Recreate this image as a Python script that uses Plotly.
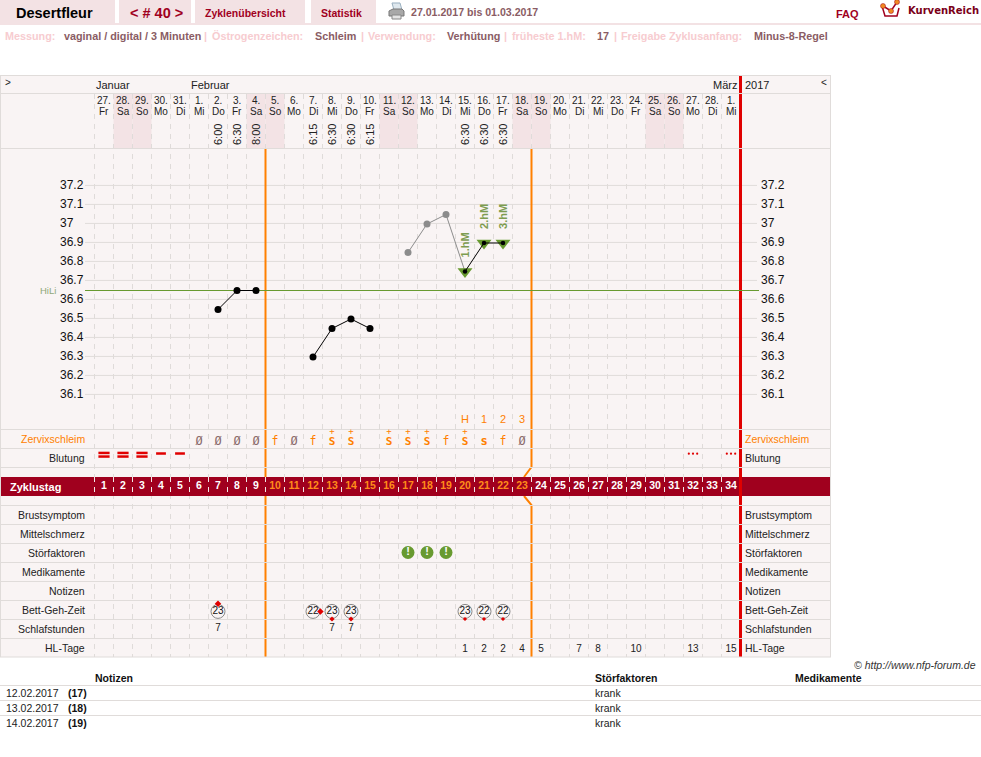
import plotly.graph_objects as go

W, H = 981, 757

# ---- cycle calendar ----
date_labels = ["27.", "28.", "29.", "30.", "31.", "1.", "2.", "3.", "4.", "5.", "6.", "7.", "8.", "9.", "10.", "11.", "12.",
               "13.", "14.", "15.", "16.", "17.", "18.", "19.", "20.", "21.", "22.", "23.", "24.", "25.", "26.", "27.", "28.", "1."]
weekday_labels = ["Fr", "Sa", "So", "Mo", "Di", "Mi", "Do", "Fr", "Sa", "So", "Mo", "Di", "Mi", "Do", "Fr", "Sa", "So",
                  "Mo", "Di", "Mi", "Do", "Fr", "Sa", "So", "Mo", "Di", "Mi", "Do", "Fr", "Sa", "So", "Mo", "Di", "Mi"]
cycle_days = list(range(1, 35))
weekend_days = [2, 3, 9, 10, 16, 17, 23, 24, 30, 31]
wake_days = [7, 8, 9, 12, 13, 14, 15, 20, 21, 22]
wake_times = ["6:00", "6:30", "8:00", "6:15", "6:30", "6:30", "6:15", "6:30", "6:30", "6:30"]
months = [("Januar", 96), ("Februar", 191), ("März", 713)]

# ---- temperature curve ----
temp_ticks = [37.2, 37.1, 37, 36.9, 36.8, 36.7, 36.6, 36.5, 36.4, 36.3, 36.2, 36.1]
hili_level = 36.65
temp_days_a = [7, 8, 9]
temp_vals_a = [36.55, 36.65, 36.65]
temp_days_b = [12, 13, 14, 15]
temp_vals_b = [36.30, 36.45, 36.50, 36.45]
temp_days_c = [17, 18, 19, 20]
temp_vals_c = [36.85, 37.00, 37.05, 36.75]
temp_days_d = [20, 21, 22]
temp_vals_d = [36.75, 36.90, 36.90]
hm_labels = ["1.hM", "2.hM", "3.hM"]

# ---- observation lanes ----
peak_days = [20, 21, 22, 23]
peak_labels = ["H", "1", "2", "3"]
mucus_dry_days = [6, 7, 8, 9, 11, 23]
mucus_f_days = [10, 12, 19, 22]
mucus_s_days = [21]
mucus_splus_days = [13, 14, 16, 17, 18, 20]
bleed_heavy_days = [1, 2, 3]
bleed_light_days = [4, 5]
spot_days = [32, 34]
disturb_days = [17, 18, 19]
bed_days = [7, 12, 13, 14, 20, 21, 22]
bed_hours = ["23", "22", "23", "23", "23", "22", "22"]
sleep_days = [7, 13, 14]
sleep_hours = ["7", "7", "7"]
hl_days = [20, 21, 22, 23, 24, 26, 27, 29, 32, 34]
hl_counts = ["1", "2", "2", "4", "5", "7", "8", "10", "13", "15"]
lane_labels = [("Zervixschleim", 0), ("Blutung", 1), ("Brustsymptom", 4), ("Mittelschmerz", 5), ("Störfaktoren", 6),
               ("Medikamente", 7), ("Notizen", 8), ("Bett-Geh-Zeit", 9), ("Schlafstunden", 10), ("HL-Tage", 11)]
fertile_first_day = 10
fertile_last_day = 23
note_rows = [("12.02.2017", "(17)", "krank"), ("13.02.2017", "(18)", "krank"), ("14.02.2017", "(19)", "krank")]

# ---- palette ----
PANEL = "#f9f4f4"
SHADE = "#f3e3e5"
RULE = "#e0dcda"
DASH = "#dfdbd9"
MAROON = "#a0001e"
ORANGE = "#ff8000"
RED = "#e00000"
GREEN = "#689a30"
MUTED = "#8a5c64"
PINK = "#f7ccd0"
TAB = "#f3e2e4"
SANS = "Liberation Sans"
MONO = "DejaVu Sans Mono"

# Scale of the day axis and of the two vertical axes on the page
DAY_PX = 19.0
DAY1_X = 104.0
TEMP_PX = 190.0
TEMP_TOP_Y = 186.0
LANE_PX = 19.0
LANE0_Y = 438.5


def fx(px):
    return px / W


def fy(px):
    return 1 - px / H


def day_at(px):
    return 1 + (px - DAY1_X) / DAY_PX


shapes = []


def rect(x0, y0, x1, y1, fill):
    shapes.append(dict(type="rect", xref="paper", yref="paper", x0=fx(x0), x1=fx(x1), y0=fy(y0), y1=fy(y1),
                       fillcolor=fill, line_width=0, layer="below"))


def seg(x0, y0, x1, y1, color, width=1, dash=None):
    shapes.append(dict(type="line", xref="paper", yref="paper", x0=fx(x0), x1=fx(x1), y0=fy(y0), y1=fy(y1),
                       line=dict(color=color, width=width, dash=dash), layer="below"))


def path(points, color, width=1, fill=None):
    d = "M" + " L".join(f"{fx(x):.5f},{fy(y):.5f}" for x, y in points)
    if fill:
        d += " Z"
    shapes.append(dict(type="path", xref="paper", yref="paper", path=d, layer="below",
                       line=dict(color=color, width=width), fillcolor=fill or "rgba(0,0,0,0)"))


annotations = []


def label(text, x, y, size=11, color="#222", family=SANS, anchor="left", bold=False, italic=False, angle=0,
          xref="paper", yref="paper"):
    if bold:
        text = f"<b>{text}</b>"
    if italic:
        text = f"<i>{text}</i>"
    annotations.append(dict(text=text, x=fx(x) if xref == "paper" else x, y=fy(y) if yref == "paper" else y,
                            xref=xref, yref=yref, xanchor=anchor, yanchor="middle", showarrow=False,
                            textangle=angle, font=dict(size=size, color=color, family=family),
                            borderpad=0, borderwidth=0))


# ---- page header ----
rect(0, 0, 115, 23, TAB)
rect(119, 0, 191, 23, TAB)
rect(195, 0, 305, 23, TAB)
rect(311, 0, 376, 23, TAB)
rect(0, 23, W, 25, TAB)
label("Desertfleur", 16, 13, size=14.5, color="#000", bold=True)
label("&lt; # 40 &gt;", 156, 13, size=14.5, color=MAROON, bold=True, anchor="center")
label("Zyklenübersicht", 205, 13, size=10.5, color=MAROON, bold=True)
label("Statistik", 321, 13, size=10.5, color=MAROON, bold=True)
label("27.01.2017 bis 01.03.2017", 411, 12.5, size=10.6, color=MUTED, bold=True)
label("FAQ", 836, 14.5, size=11, color=MAROON, bold=True)
label("KurvenReich", 908, 10.5, size=10, color="#7a0018", family="DejaVu Sans", bold=True)

# printer icon
path([(392, 3), (400, 3), (402, 10), (394, 10)], "#9ab0c0", 1, "#dfe8ee")
path([(389, 11), (393, 9), (402, 9), (404, 11), (404, 16), (389, 16)], "#777", 1, "#a8a8a8")
path([(392, 15), (401, 15), (401, 19), (392, 19)], "#888", 1, "#e4e4e4")

# crown logo
path([(882, 6), (885, 16), (897, 16), (899, 8)], MAROON, 1.5)
path([(883, 6), (891, 11), (897, 2)], MAROON, 1.5)
for cx, cy in [(883, 6), (891, 11), (897, 2)]:
    shapes.append(dict(type="circle", xref="paper", yref="paper", x0=fx(cx - 2.5), x1=fx(cx + 2.5),
                       y0=fy(cy + 2.5), y1=fy(cy - 2.5), fillcolor="#f08a20", line=dict(color=MAROON, width=0.5),
                       layer="below"))

# settings line under the header
settings = [("Messung:", 5, PINK), ("vaginal / digital / 3 Minuten", 64, MUTED), ("|", 204, PINK),
            ("Östrogenzeichen:", 212, PINK), ("Schleim", 315, MUTED), ("|", 361, PINK),
            ("Verwendung:", 368, PINK), ("Verhütung", 447, MUTED), ("|", 504, PINK),
            ("früheste 1.hM:", 512, PINK), ("17", 597, MUTED), ("|", 614, PINK),
            ("Freigabe Zyklusanfang:", 621, PINK), ("Minus-8-Regel", 754, MUTED)]
for text, x, color in settings:
    label(text, x, 36, size=10.8, color=color, bold=True)

# ---- chart panel ----
rect(0, 75, 831, 657, PANEL)
for d in weekend_days:
    shapes.append(dict(type="rect", xref="x", yref="paper", x0=d - 0.5, x1=d + 0.5, y0=fy(148), y1=fy(94),
                       fillcolor=SHADE, line_width=0, layer="below"))

# vertical dashes between days
for d in cycle_days:
    shapes.append(dict(type="line", xref="x", yref="paper", x0=d - 0.5, x1=d - 0.5, y0=fy(94), y1=fy(657),
                       line=dict(color=DASH, width=1, dash="5px,5px"), layer="below"))

# temperature grid; captions sit half a pixel above their rule
for t in temp_ticks:
    shapes.append(dict(type="line", xref="paper", yref="y", x0=fx(85), x1=fx(757), y0=t + 0.003, y1=t + 0.003,
                       line=dict(color=RULE, width=1), layer="below"))
    label(str(t), 60, t + 0.006, size=12, color="#111", yref="y")
    label(str(t), 761, t + 0.006, size=12, color="#111", yref="y")
label("HiLi", 40, hili_level, size=9.5, color="#8fa878", yref="y")

# phase boundaries
left_edge = fertile_first_day - 0.5
right_edge = fertile_last_day + 0.5
right_px = DAY1_X + (right_edge - 1) * DAY_PX
shapes.append(dict(type="line", xref="x", yref="paper", x0=left_edge, x1=left_edge, y0=fy(148), y1=fy(657),
                   line=dict(color=ORANGE, width=2), layer="below"))
path([(right_px, 148), (right_px, 467), (right_px - 7.5, 477)], ORANGE, 2)
path([(right_px - 7.5, 496), (right_px, 505), (right_px, 657)], ORANGE, 2)

# Zyklustag band and its white day separators
rect(0, 477, 831, 496, MAROON)
for d in cycle_days:
    shapes.append(dict(type="line", xref="x", yref="paper", x0=d - 0.5, x1=d - 0.5, y0=fy(477), y1=fy(496),
                       line=dict(color="#f2e8e8", width=1, dash="5px,5px"), layer="below"))
shapes.append(dict(type="line", xref="x", yref="paper", x0=34.5, x1=34.5, y0=fy(75), y1=fy(657),
                   line=dict(color=RED, width=3), layer="below"))

# lane rules sit over the vertical strokes
for y in [75.5, 93.5, 148.5, 429.5, 448.5, 467.5, 505.5, 524.5, 543.5, 562.5, 581.5, 600.5, 619.5, 638.5, 657]:
    seg(0, y, 831, y, RULE, 1.2 if y in (75.5, 93.5, 148.5, 657) else 1)
seg(0.5, 75, 0.5, 657, RULE, 1)
seg(830.5, 75, 830.5, 657, RULE, 1)

# panel captions
label("&gt;", 5, 83, size=10, color="#222")
label("&lt;", 821, 82, size=10, color="#222")
label("2017", 745, 85, size=11, color="#222")
for name, x in months:
    label(name, x, 85, size=11, color="#222")
for d, date, wd in zip(cycle_days, date_labels, weekday_labels):
    label(date, d, 100.8, size=10, color="#222", anchor="center", xref="x")
    label(wd, d, 111.6, size=10, color="#222", anchor="center", xref="x")
for d, t in zip(wake_days, wake_times):
    label(t, d, 135, size=11, color="#222", anchor="center", angle=-90, xref="x")
for name, lane in lane_labels:
    col = ORANGE if name == "Zervixschleim" else "#222"
    label(name, 85, LANE0_Y + lane * LANE_PX, size=10.5, color=col, anchor="right")
    label(name, 745, LANE0_Y + lane * LANE_PX, size=10.5, color=col)
label("Zyklustag", 10, 486.5, size=11, color="#fff", bold=True)

# hM captions above the triangles
for d, v, text in zip(temp_days_d, temp_vals_d, hm_labels):
    label(text, d, v + 0.137, size=11, color="#7d9c50", bold=True, anchor="center", angle=-90, xref="x", yref="y")

# ---- notes table ----
label("© http://www.nfp-forum.de", 976, 665, size=10.5, color="#333", anchor="right", italic=True)
label("Notizen", 95, 678, size=10.5, color="#111", bold=True)
label("Störfaktoren", 595, 678, size=10.5, color="#111", bold=True)
label("Medikamente", 795, 678, size=10.5, color="#111", bold=True)
for i, (date, day, factor) in enumerate(note_rows):
    y = 693 + i * 15
    seg(0, 685.5 + i * 15, W, 685.5 + i * 15, RULE, 1)
    label(date, 6, y, size=10.5, color="#222")
    label(day, 68, y, size=10.5, color="#111", bold=True)
    label(factor, 595, y, size=10.5, color="#222")

# ---- marks ----
fig = go.Figure()


def temp_line(days, vals, color, size=7):
    fig.add_trace(go.Scatter(x=days, y=vals, mode="lines+markers", line=dict(color=color, width=1),
                             marker=dict(color=color, size=size), hoverinfo="skip", showlegend=False))


def lane_text(days, lane, texts, color, size, family=SANS, bold=False):
    labels = [f"<b>{t}</b>" if bold else t for t in texts]
    fig.add_trace(go.Scatter(x=days, y=[lane] * len(days), yaxis="y2", mode="text", text=labels,
                             textposition="middle center", textfont=dict(size=size, color=color, family=family),
                             hoverinfo="skip", showlegend=False))


def lane_marks(days, lane, color, size, symbol="circle", line=None):
    fig.add_trace(go.Scatter(x=days, y=[lane] * len(days), yaxis="y2", mode="markers",
                             marker=dict(color=color, size=size, symbol=symbol, line=line or dict(width=0)),
                             hoverinfo="skip", showlegend=False))


# Hochlage cover line
fig.add_trace(go.Scatter(x=[day_at(85), day_at(759)], y=[hili_level, hili_level], mode="lines",
                         line=dict(color=GREEN, width=1), hoverinfo="skip", showlegend=False))

temp_line(temp_days_c, temp_vals_c, "#8c8c8c")
fig.add_trace(go.Scatter(x=temp_days_d, y=temp_vals_d, mode="markers",
                         marker=dict(symbol="triangle-down", size=13, color=GREEN),
                         hoverinfo="skip", showlegend=False))
temp_line(temp_days_a, temp_vals_a, "#000")
temp_line(temp_days_b, temp_vals_b, "#000")
temp_line(temp_days_d, temp_vals_d, "#000", size=4.5)

# lane texts
lane_text(peak_days, -0.95, peak_labels, ORANGE, 11)
lane_text(mucus_dry_days, 0.2, ["Ø"] * len(mucus_dry_days), "#8a6a6a", 12, MONO)
lane_text(mucus_f_days, 0.2, ["f"] * len(mucus_f_days), ORANGE, 11.5, MONO)
lane_text(mucus_s_days, 0.2, ["s"] * len(mucus_s_days), ORANGE, 12, MONO, bold=True)
lane_text(mucus_splus_days, 0.2, ["S"] * len(mucus_splus_days), ORANGE, 11, MONO, bold=True)
lane_text(mucus_splus_days, -0.33, ["+"] * len(mucus_splus_days), ORANGE, 9, MONO)

# bleeding
bar = dict(color=RED, width=2.5)
lane_marks(bleed_heavy_days, 0.76, RED, 8, "line-ew", bar)
lane_marks(bleed_heavy_days, 0.95, RED, 8, "line-ew", bar)
lane_marks(bleed_light_days, 0.79, RED, 7, "line-ew", bar)
spot_x = [d + off for d in spot_days for off in (-0.22, 0, 0.22)]
lane_marks(spot_x, 0.8, RED, 2.2, "circle")

# cycle day numbers on the band
normal_days = [d for d in cycle_days if not fertile_first_day <= d <= fertile_last_day]
fertile_days = [d for d in cycle_days if fertile_first_day <= d <= fertile_last_day]
lane_text(normal_days, 2.5, [str(d) for d in normal_days], "#fff", 10.5, bold=True)
lane_text(fertile_days, 2.5, [str(d) for d in fertile_days], "#ff8c1a", 10.5, bold=True)

# disturbance badges
lane_marks(disturb_days, 6, GREEN, 13)
lane_text(disturb_days, 6, ["!"] * len(disturb_days), "#fff", 11, bold=True)

# bed time rings with a red marker for the side of the clock
lane_marks(bed_days, 9.1, PANEL, 14, "circle", dict(color="#888", width=1))
lane_text(bed_days, 9.1, bed_hours, "#111", 10)
lane_marks([7], 8.7, RED, 5, "diamond")
lane_marks([12.39], 9.1, RED, 5, "diamond")
lane_marks([13, 14], 9.5, RED, 4, "diamond")
lane_marks([20, 21, 22], 9.5, RED, 3.2, "diamond")

lane_text(sleep_days, 10, sleep_hours, "#222", 10)
lane_text(hl_days, 11.1, hl_counts, "#222", 10)

fig.update_layout(
    width=W, height=H, autosize=False, margin=dict(l=0, r=0, t=0, b=0, pad=0),
    paper_bgcolor="#fff", plot_bgcolor="#fff", showlegend=False, hovermode=False,
    shapes=shapes, annotations=annotations,
    xaxis=dict(visible=False, range=[day_at(0), day_at(W)], fixedrange=True, domain=[0, 1]),
    yaxis=dict(visible=False, range=[37.2 - (H - TEMP_TOP_Y) / TEMP_PX, 37.2 + TEMP_TOP_Y / TEMP_PX],
               fixedrange=True, domain=[0, 1]),
    yaxis2=dict(visible=False, overlaying="y", range=[(H - LANE0_Y) / LANE_PX, -LANE0_Y / LANE_PX], fixedrange=True),
)

fig.write_html("out.html", config=dict(displayModeBar=False))
